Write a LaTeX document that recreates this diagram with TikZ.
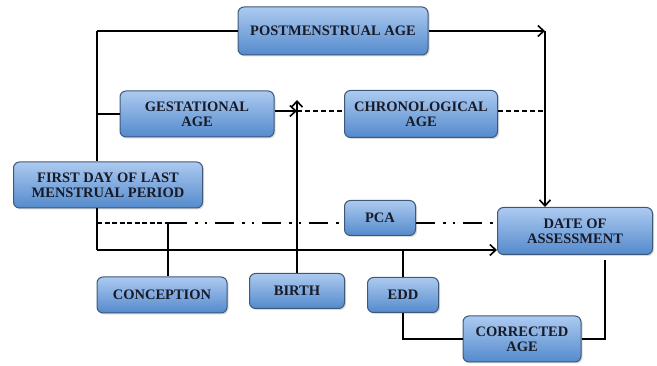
\documentclass[tikz,border=0pt]{standalone}
\usepackage{fontspec}
\setmainfont{Liberation Serif}
\usetikzlibrary{arrows.meta, shadows}

\definecolor{boxtop}{RGB}{172,202,240}
\definecolor{boxbot}{RGB}{84,138,204}
\definecolor{boxline}{RGB}{62,88,124}
\definecolor{boxtext}{RGB}{24,26,40}

\tikzset{
    agebox/.style={draw=boxline, line width=1pt, rounded corners=6pt,
        top color=boxtop, bottom color=boxbot, text=boxtext,
        font=\fontsize{14.5}{15}\selectfont\bfseries, align=center,
        inner sep=2pt, drop shadow={opacity=0.3, shadow xshift=1.5pt, shadow yshift=-1.5pt}},
    link/.style={line width=1.9pt, black},
    arr/.style={link, -{Straight Barb[length=6pt, width=11pt, line width=1.6pt]}},
    shortdash/.style={link, dash pattern=on 5pt off 2.5pt},
    dashdotdot/.style={link, dash pattern=on 19pt off 8pt on 2.5pt off 7pt on 2.5pt off 8pt}
}

\begin{document}
\begin{tikzpicture}[x=1pt, y=-1pt]
    \useasboundingbox (0,0) rectangle (657,366);

    % Boxes
    \node[agebox, minimum width=190pt, minimum height=48pt] (pma) at (333,31) {POSTMENSTRUAL AGE};
    \node[agebox, minimum width=154pt, minimum height=46pt] (ga) at (197,114) {GESTATIONAL\\AGE};
    \node[agebox, minimum width=153pt, minimum height=47pt] (ca) at (421,114) {CHRONOLOGICAL\\AGE};
    \node[agebox, minimum width=189pt, minimum height=46pt] (lmp) at (108,185) {FIRST DAY OF LAST\\MENSTRUAL PERIOD};
    \node[agebox, minimum width=71pt, minimum height=35pt] (pca) at (380,218) {PCA};
    \node[agebox, minimum width=155pt, minimum height=47pt] (doa) at (575,231) {DATE OF\\ASSESSMENT};
    \node[agebox, minimum width=130pt, minimum height=36pt] (con) at (162,295) {CONCEPTION};
    \node[agebox, minimum width=95pt, minimum height=35pt] (bir) at (297,291) {BIRTH};
    \node[agebox, minimum width=71pt, minimum height=35pt] (edd) at (403,295) {EDD};
    \node[agebox, minimum width=118pt, minimum height=46pt] (cor) at (522,339) {CORRECTED\\AGE};

    % Junction points
    \coordinate (tl) at (97,31);
    \coordinate (tr) at (545,31);
    \coordinate (bt) at (297,100);
    \coordinate (gj) at (297,111);
    \coordinate (rj) at (545,111);
    \coordinate (lp) at (97,223);
    \coordinate (cp) at (168,223);
    \coordinate (lb) at (97,250);

    % Left spine
    \draw[link] (tl) -- (lmp.north -| tl);
    \draw[link] (lmp.south -| tl) -- (lb);
    \draw[link] (tl) -- (pma.west);
    \draw[link] (tl |- ga.west) -- (ga.west);

    % Postmenstrual age down to assessment
    \draw[arr] (pma.east |- tr) -- (tr);
    \draw[arr] (tr) -- (doa.north -| tr);

    % Gestational / chronological age
    \draw[arr] (bir.north) -- (bt);
    \draw[arr] (ga.east |- gj) -- (gj);
    \draw[link, dash pattern=on 5pt off 3pt] (gj) -- (ca.west |- gj);
    \draw[link, dash pattern=on 5pt off 3pt] (ca.east |- gj) -- (rj);

    % PCA line
    \draw[shortdash] (lp) -- (cp);
    \draw[dashdotdot] (cp) -- (pca.west |- cp);
    \draw[dashdotdot] (pca.east |- cp) -- (doa.west |- cp);
    \draw[link] (cp) -- (cp |- con.north);

    % Line to date of assessment
    \draw[arr] (lb) -- (doa.west |- lb);
    \draw[link] (edd.north |- lb) -- (edd.north);
    \draw[link] (edd.south) |- (cor.west);
    \draw[link] (cor.east) -| ([xshift=30pt, yshift=-5pt]doa.south);
\end{tikzpicture}
\end{document}
